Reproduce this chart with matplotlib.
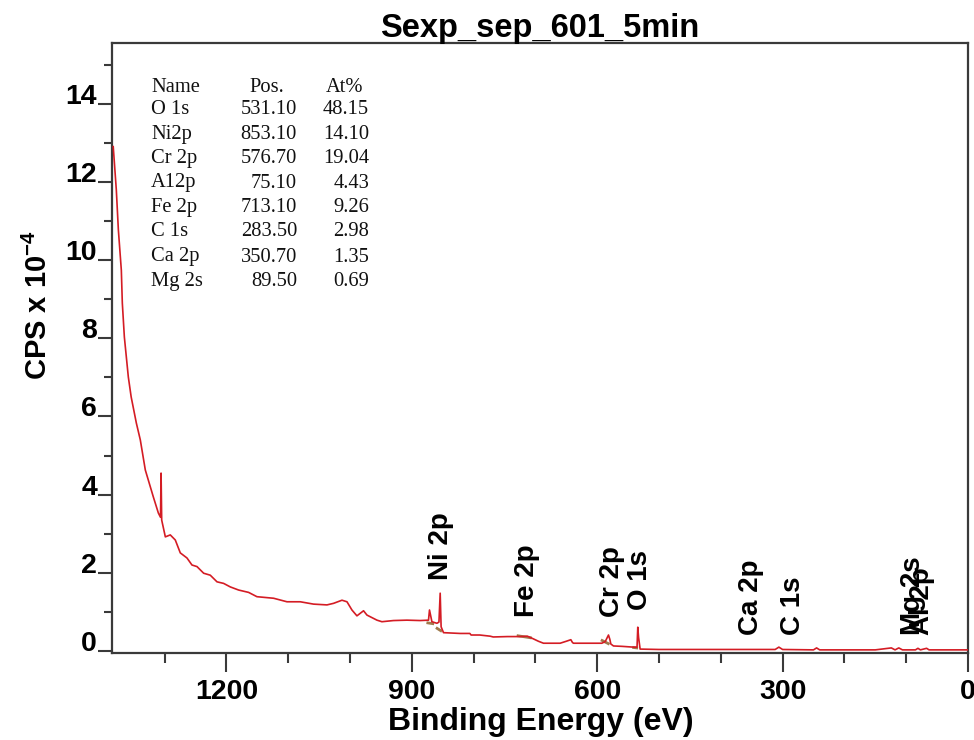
import matplotlib
matplotlib.use("Agg")
import matplotlib.pyplot as plt
from matplotlib.ticker import FixedLocator, NullFormatter

plt.rcParams['font.family'] = ['Liberation Sans', 'DejaVu Sans']
plt.rcParams['mathtext.fontset'] = 'custom'
plt.rcParams['mathtext.rm'] = 'Liberation Sans'
plt.rcParams['mathtext.bf'] = 'Liberation Sans:bold'

# ---------------- data ----------------
title = "Sexp_sep_601_5min"

energy = [1383, 1378, 1374.7, 1369.9, 1368.3, 1365, 1358.6, 1354, 1345.6, 1339.2,
          1331.1, 1318.1, 1310, 1306.5, 1305.6, 1304.6, 1298.7, 1290.7, 1282.6,
          1274.5, 1263.7, 1255.6, 1247.5, 1236.7, 1226, 1215.1, 1204.4, 1193.6,
          1180.1, 1164, 1150.5, 1123.5, 1101.9, 1080.4, 1058.9, 1037.2, 1026.5,
          1012.9, 1004.8, 996.8, 988.7, 978, 972.5, 956.3, 948.3, 929.5, 907.8,
          886.3, 872.9, 871.3, 867.4, 859.3, 856, 854, 852.5, 848.6, 821.6, 806,
          804, 790, 773.1, 768.2, 745, 724.6, 713, 705.7, 695, 686.9, 672, 659.9,
          650, 642.6, 640, 638.4, 615, 592.5, 587, 581.7, 579.5, 577.9, 573.6,
          560, 541.3, 535.5, 534.3, 533, 530.5, 500, 450, 400, 350, 312, 306,
          300, 250, 245, 240, 200, 150, 124, 118, 112, 106, 85, 81, 77, 67, 63,
          30, 0]
cps = [12.90, 11.79, 10.77, 9.74, 8.90, 8.03, 7.01, 6.50, 5.83, 5.40,
       4.63, 3.94, 3.53, 3.42, 4.55, 3.35, 2.92, 2.97, 2.84,
       2.51, 2.38, 2.20, 2.16, 1.99, 1.94, 1.77, 1.73, 1.64,
       1.56, 1.50, 1.39, 1.35, 1.26, 1.26, 1.20, 1.18, 1.22,
       1.30, 1.26, 1.05, 0.90, 1.03, 0.92, 0.79, 0.75, 0.78, 0.79,
       0.78, 0.79, 1.05, 0.75, 0.71, 0.74, 1.48, 0.62, 0.47, 0.45, 0.45,
       0.41, 0.41, 0.38, 0.36, 0.37, 0.37, 0.38, 0.33, 0.25, 0.20, 0.20, 0.20,
       0.25, 0.29, 0.22, 0.20, 0.20, 0.20, 0.24, 0.41, 0.30, 0.18, 0.13,
       0.12, 0.10, 0.10, 0.61, 0.35, 0.05, 0.04, 0.04, 0.04, 0.04, 0.04, 0.10,
       0.04, 0.03, 0.08, 0.03, 0.03, 0.03, 0.08, 0.03, 0.08, 0.03, 0.03, 0.07, 0.03, 0.07, 0.03,
       0.03, 0.03]

# background (peak-region) segments, drawn in tan
bg_energy = [[874, 866], [859, 853], [728, 708], [592, 582], [541, 536]]
bg_cps = [[0.72, 0.70], [0.58, 0.52], [0.39, 0.34], [0.27, 0.19], [0.09, 0.08]]

peak_names = ["Ni 2p", "Fe 2p", "Cr 2p", "O 1s", "Ca 2p", "C 1s", "Mg 2s", "Al 2p"]
peak_pos = [853.1, 713.1, 576.7, 531.1, 350.7, 283.5, 89.5, 75.1]
peak_label_y = [1.82, 0.87, 0.87, 1.05, 0.41, 0.41, 0.41, 0.41]

table_names = ["O 1s", "Ni2p", "Cr 2p", "A12p", "Fe 2p", "C 1s", "Ca 2p", "Mg 2s"]
table_pos = ["531.10", "853.10", "576.70", "75.10", "713.10", "283.50", "350.70", "89.50"]
table_at = ["48.15", "14.10", "19.04", "4.43", "9.26", "2.98", "1.35", "0.69"]

x_major = [1200, 900, 600, 300, 0]
x_minor = [1300, 1100, 1000, 800, 700, 500, 400, 200, 100]
y_major = [0, 2, 4, 6, 8, 10, 12, 14]
y_minor = [1, 3, 5, 7, 9, 11, 13, 15]

# ---------------- figure ----------------
W, H = 974, 740
fig = plt.figure(figsize=(W / 100, H / 100), dpi=100)
L, R, T, B = 112, 968, 43, 653
ax = fig.add_axes([L / W, (H - B) / H, (R - L) / W, (B - T) / H])

spine_c = '#3a3a3a'
for s in ax.spines.values():
    s.set_color(spine_c)
    s.set_linewidth(1.6)

for e, v in zip(bg_energy, bg_cps):
    ax.plot(e, v, color='#a07a4c', lw=2.0, zorder=2)
ax.plot(energy, cps, color='#d41c24', lw=1.2, zorder=3)

ax.set_xlim(1385, 0)
ax.set_ylim(-0.05, 15.55)

ax.xaxis.set_major_locator(FixedLocator(x_major))
ax.xaxis.set_minor_locator(FixedLocator(x_minor))
ax.yaxis.set_major_locator(FixedLocator(y_major))
ax.yaxis.set_minor_locator(FixedLocator(y_minor))
ax.xaxis.set_minor_formatter(NullFormatter())
ax.yaxis.set_minor_formatter(NullFormatter())
ax.set_xticklabels([str(v) for v in x_major])
ax.set_yticklabels([str(v) for v in y_major])

ax.tick_params(axis='both', which='both', direction='out', top=False, right=False,
               color=spine_c, width=1.5)
ax.tick_params(axis='x', which='major', length=13.5, pad=5, labelsize=20.5)
ax.tick_params(axis='x', which='minor', length=7)
ax.tick_params(axis='y', which='major', length=10, pad=0.8, labelsize=20.5)
ax.tick_params(axis='y', which='minor', length=5.5)
for lbl in ax.get_xticklabels() + ax.get_yticklabels():
    lbl.set_fontweight('bold')
for t in ax.yaxis.get_major_ticks():
    t.label1.set_verticalalignment('baseline')

# peak labels
for name, pos, yy in zip(peak_names, peak_pos, peak_label_y):
    ax.text(pos, yy, name, rotation=90, ha='center', va='bottom',
            fontsize=20, fontweight='bold', color='black', zorder=4)

# quantification table
row_y = [87, 110, 134.3, 158.7, 183, 207.3, 232, 257, 281.7]
serif = ['Liberation Serif', 'DejaVu Serif']
tc = '#111111'
fs = 14.8
fig.text(151 / W, 1 - row_y[0] / H, "Name", family=serif, fontsize=fs, color=tc, va='center', ha='left')
fig.text(267 / W, 1 - row_y[0] / H, "Pos.", family=serif, fontsize=fs, color=tc, va='center', ha='center')
fig.text(345 / W, 1 - row_y[0] / H, "At%", family=serif, fontsize=fs, color=tc, va='center', ha='center')
for i, (n, p, a) in enumerate(zip(table_names, table_pos, table_at)):
    yy = 1 - row_y[i + 1] / H
    fig.text(151 / W, yy, n, family=serif, fontsize=fs, color=tc, va='center', ha='left')
    fig.text(297 / W, yy, p, family=serif, fontsize=fs, color=tc, va='center', ha='right')
    fig.text(369 / W, yy, a, family=serif, fontsize=fs, color=tc, va='center', ha='right')

# titles / axis labels
fig.text(540 / W, 1 - 28 / H, title, ha='center', va='center', fontsize=23.5, fontweight='bold')
fig.text(541 / W, 1 - 722 / H, "Binding Energy (eV)", ha='center', va='center',
         fontsize=23, fontweight='bold')
fig.text(38 / W, 1 - 305 / H, r"CPS x 10$^{\mathbf{-4}}$", ha='center', va='center',
         rotation=90, fontsize=21, fontweight='bold')

fig.savefig("out.png", dpi=100)
